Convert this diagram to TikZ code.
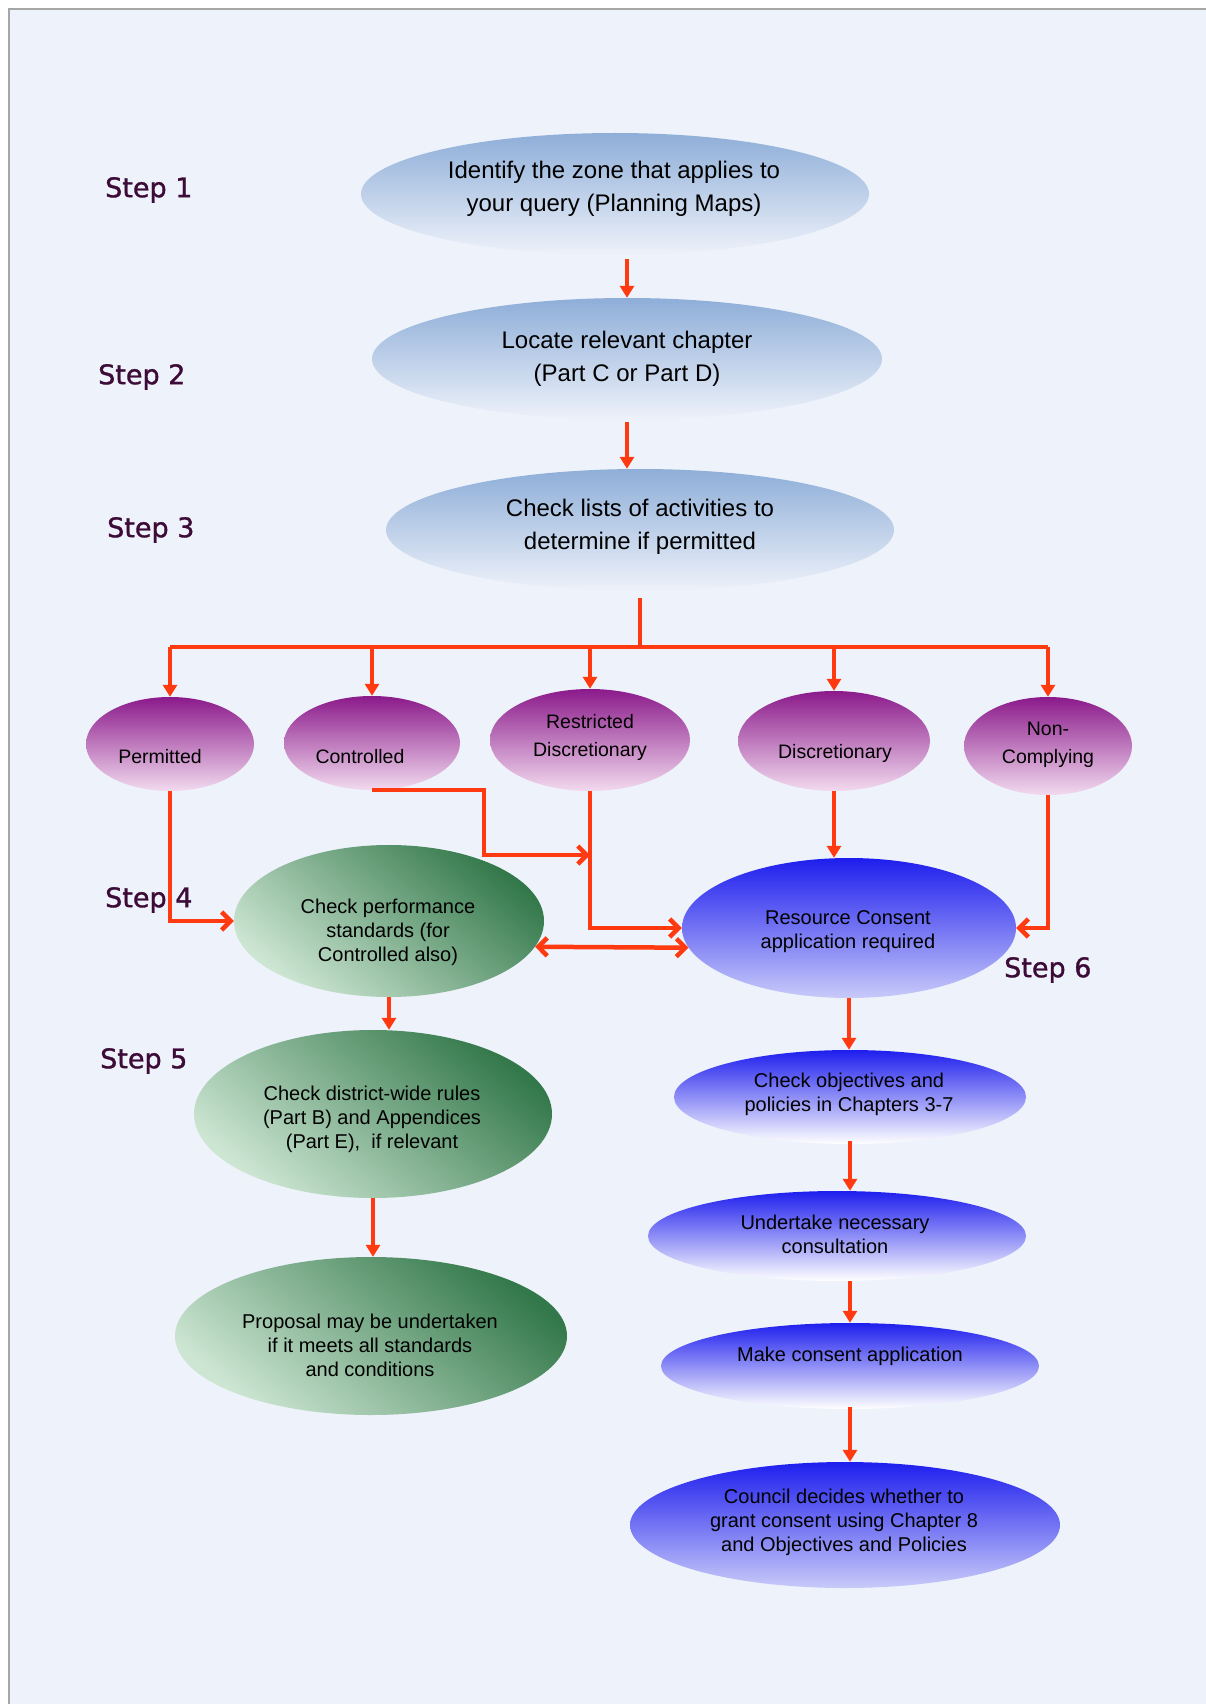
\documentclass[tikz,border=0pt]{standalone}
\usepackage{fontspec}
\setmainfont{Liberation Sans}
\newfontfamily\stepfont[FakeBold=1.2]{DejaVu Sans}
\usetikzlibrary{shapes.geometric,arrows.meta,calc}
\definecolor{bg}{HTML}{EEF2FA}
\definecolor{arrowred}{HTML}{FF3A10}
\definecolor{steptxt}{HTML}{3C0B37}
\definecolor{sbtop}{HTML}{8EAED8}
\definecolor{sbmid}{HTML}{BDD0EA}
\definecolor{purtop}{HTML}{8B1A8B}
\definecolor{purmid}{HTML}{C27ABA}
\definecolor{purbot}{HTML}{F2DAEF}
\definecolor{grdark}{HTML}{33784A}
\definecolor{grlight}{HTML}{CDE6D3}
\definecolor{bltop}{HTML}{1E1EEE}
\definecolor{blbot}{HTML}{C8CAF9}
\definecolor{bfmid}{HTML}{B4B6F7}
\begin{document}
\begin{tikzpicture}[x=1pt,y=-1pt,
  ell/.style={ellipse, inner sep=0pt, draw=none},
  topell/.style={ell, top color=sbtop, middle color=sbmid, bottom color=bg},
  purell/.style={ell, top color=purtop, middle color=purmid, bottom color=purbot},
  grell/.style={ell, top color=grdark, bottom color=grlight, shading angle=-40},
  blell/.style={ell, top color=bltop, bottom color=blbot},
  bfell/.style={ell, top color=bltop, middle color=bfmid, bottom color=white},
  bigtxt/.style={align=center, inner sep=0pt, font=\fontsize{24}{33}\selectfont},
  purtxt/.style={align=center, inner sep=0pt, font=\fontsize{19.5}{28}\selectfont},
  midtxt/.style={align=center, inner sep=0pt, font=\fontsize{20}{24}\selectfont},
  steplbl/.style={anchor=west, inner sep=0pt, text=steptxt, font=\stepfont\fontsize{27}{30}\selectfont},
  arr/.style={draw=arrowred, line width=4.5pt, -{Triangle[length=12pt,width=14pt]}},
  barb/.style={draw=arrowred, line width=4.5pt, -{Straight Barb[length=9pt,width=18pt,line width=4.5pt]}},
  dbarb/.style={draw=arrowred, line width=4.5pt, {Straight Barb[length=9pt,width=18pt,line width=4.5pt]}-{Straight Barb[length=9pt,width=18pt,line width=4.5pt]}},
  bus/.style={draw=arrowred, line width=4.5pt}
]
\useasboundingbox (0,0) rectangle (1206,1704);
\fill[white] (0,0) rectangle (1206,1704);
\fill[bg] (9,9) rectangle (1206,1704);
\draw[black!35, line width=1.2pt] (9,1704) -- (9,9) -- (1206,9);

% top ellipses
\node[topell, minimum width=508pt, minimum height=122pt] (e1) at (615,194) {};
\node[topell, minimum width=510pt, minimum height=122pt] (e2) at (627,359) {};
\node[topell, minimum width=508pt, minimum height=122pt] (e3) at (640,530) {};
\node[bigtxt] (t1) at (614,189) {Identify the zone that applies to\\your query (Planning Maps)};
\node[bigtxt] (t2) at (627,359) {Locate relevant chapter\\(Part C or Part D)};
\node[bigtxt] (t3) at (640,527) {Check lists of activities to\\determine if permitted};

% purple ellipses
\node[purell, minimum width=168pt, minimum height=94pt] (perm) at (170,744) {};
\node[purell, minimum width=176pt, minimum height=94pt] (ctrl) at (372,743) {};
\node[purell, minimum width=200pt, minimum height=102pt] (restr) at (590,740) {};
\node[purell, minimum width=192pt, minimum height=100pt] (disc) at (834,741) {};
\node[purell, minimum width=168pt, minimum height=98pt] (nonc) at (1048,746) {};
\node[purtxt] (tp) at (160,757) {Permitted};
\node[purtxt] (tc) at (360,757) {Controlled};
\node[purtxt] (tr) at (590,737) {Restricted\\Discretionary};
\node[purtxt] (td) at (835,753) {Discretionary};
\node[purtxt] (tn) at (1048,745) {Non-\\Complying};

% green ellipses
\node[grell, minimum width=310pt, minimum height=152pt] (perf) at (389,921) {};
\node[grell, minimum width=358pt, minimum height=168pt] (dist) at (373,1114) {};
\node[grell, minimum width=392pt, minimum height=158pt] (prop) at (371,1336) {};
\node[midtxt] (tperf) at (388,932) {Check performance\\standards (for\\Controlled also)};
\node[midtxt] (tdist) at (372,1119) {Check district-wide rules\\(Part B) and Appendices\\(Part E),\ \ if relevant};
\node[midtxt] (tprop) at (370,1345) {Proposal may be undertaken\\if it meets all standards\\and conditions};

% blue ellipses
\node[blell, minimum width=334pt, minimum height=140pt] (rc) at (849,928) {};
\node[bfell, minimum width=352pt, minimum height=94pt] (obj) at (850,1097) {};
\node[bfell, minimum width=378pt, minimum height=90pt] (und) at (837,1236) {};
\node[bfell, minimum width=378pt, minimum height=86pt] (make) at (850,1366) {};
\node[blell, minimum width=430pt, minimum height=126pt] (coun) at (845,1525) {};
\node[midtxt] (trc) at (848,932) {Resource Consent\\application required};
\node[midtxt] (tobj) at (849,1094) {Check objectives and\\policies in Chapters 3-7};
\node[midtxt] (tund) at (835,1234) {Undertake necessary\\consultation};
\node[midtxt] (tmake) at (850,1356) {Make consent application};
\node[midtxt] (tcoun) at (844,1522) {Council decides whether to\\grant consent using Chapter 8\\and Objectives and Policies};

% step labels
\node[steplbl] (s1) at (105,190) {Step 1};
\node[steplbl] (s2) at (98,377) {Step 2};
\node[steplbl] (s3) at (107,530) {Step 3};
\node[steplbl] (s4) at (105,900) {Step 4};
\node[steplbl] (s5) at (100,1061) {Step 5};
\node[steplbl] (s6) at (1004,970) {Step 6};

% connectors
\coordinate (busc) at (640,647);
\coordinate (jr) at (590,855);
\draw[arr] ([yshift=-4pt]e2.north |- e1.south) -- (e2.north);
\draw[arr] ([yshift=-2pt]e2.south) -- (e2.south |- e3.north);
\draw[bus] ([yshift=-7pt]e3.south) -- (busc);
\draw[bus] (perm.north |- busc) -- (nonc.north |- busc);
\draw[arr] (perm.north |- busc) -- (perm.north);
\draw[arr] (ctrl.north |- busc) -- (ctrl.north);
\draw[arr] (restr.north |- busc) -- (restr.north);
\draw[arr] (disc.north |- busc) -- (disc.north);
\draw[arr] (nonc.north |- busc) -- (nonc.north);

\draw[barb] (perm.south) |- (perf.west);
\draw[barb] (ctrl.south) -- ++(112,0) |- (jr);
\draw[barb] (restr.south) |- (rc.west);
\draw[arr] (disc.south) -- (disc.south |- rc.north);
\draw[barb] (nonc.south) |- (rc.east);
\draw[dbarb] (perf.-10) -- (rc.-173);

\draw[arr] (perf.south) -- (perf.south |- dist.north);
\draw[arr] (dist.south) -- (dist.south |- prop.north);
\draw[arr] (rc.south) -- (rc.south |- obj.north);
\draw[arr] ([yshift=3pt]obj.south) -- (obj.south |- und.north);
\draw[arr] (make.north |- und.south) -- (make.north);
\draw[arr] ([yshift=2pt]make.south) -- (make.south |- coun.north);
\end{tikzpicture}
\end{document}
